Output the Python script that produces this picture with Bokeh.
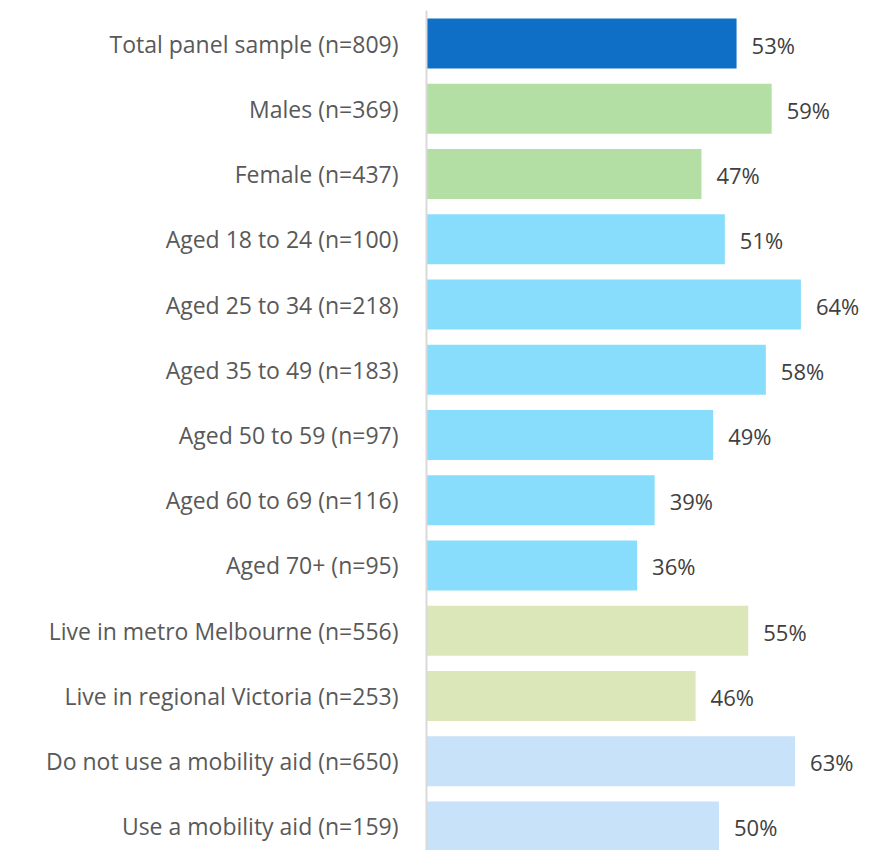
from bokeh.plotting import figure
from bokeh.models import Range1d, FixedTicker, ColumnDataSource
from bokeh.core.properties import value
from bokeh.embed import file_html
from bokeh.resources import INLINE

categories = [
    "Total panel sample (n=809)",
    "Males (n=369)",
    "Female (n=437)",
    "Aged 18 to 24 (n=100)",
    "Aged 25 to 34 (n=218)",
    "Aged 35 to 49 (n=183)",
    "Aged 50 to 59 (n=97)",
    "Aged 60 to 69 (n=116)",
    "Aged 70+ (n=95)",
    "Live in metro Melbourne (n=556)",
    "Live in regional Victoria (n=253)",
    "Do not use a mobility aid (n=650)",
    "Use a mobility aid (n=159)",
]
values = [53, 59, 47, 51, 64, 58, 49, 39, 36, 55, 46, 63, 50]
groups = ["total", "gender", "gender", "age", "age", "age", "age", "age", "age",
          "region", "region", "aid", "aid"]
group_colors = {
    "total": "#0F6FC6",
    "gender": "#B3DFA5",
    "age": "#88DDFC",
    "region": "#DCE7B9",
    "aid": "#C8E2F9",
}

pos = list(range(len(categories)))
src = ColumnDataSource(dict(
    y=pos,
    v=values,
    color=[group_colors[g] for g in groups],
    lbl=[f"{v}%" for v in values],
))

p = figure(width=875, height=850, output_backend="svg", toolbar_location=None,
           x_range=Range1d(0, 76.75), y_range=Range1d(12.368, -0.506),
           min_border_left=426, min_border_right=0, min_border_top=10,
           min_border_bottom=0)
p.outline_line_color = None
p.grid.visible = False
p.xaxis.visible = False

p.hbar(y="y", left=0, right="v", height=0.766, color="color", line_color=None,
       source=src)
p.text(x="v", y="y", text="lbl", source=src, x_offset=15, y_offset=1,
       text_baseline="middle", text_align="left", text_font=value("Open Sans"),
       text_font_size="22px", text_color="#404040")

ya = p.yaxis[0]
ya.ticker = FixedTicker(ticks=pos)
ya.major_label_overrides = {i: c for i, c in enumerate(categories)}
ya.major_label_text_font = "Open Sans"
ya.major_label_text_font_size = "23px"
ya.major_label_text_color = "#595959"
ya.major_label_standoff = 22
ya.major_tick_line_color = None
ya.minor_tick_line_color = None
ya.axis_line_color = "#D9D9D9"
ya.axis_line_width = 2

open("out.html", "w").write(file_html(p, INLINE))
